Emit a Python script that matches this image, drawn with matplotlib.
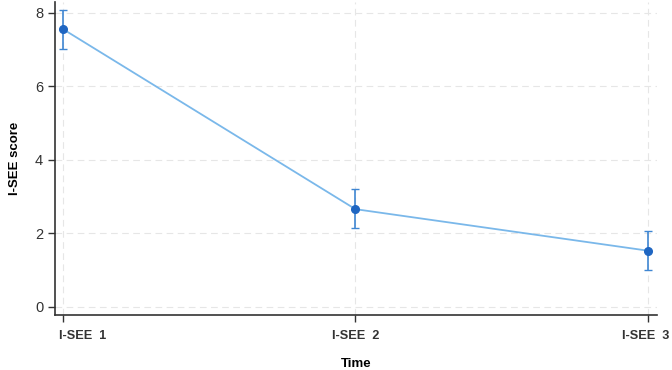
import matplotlib
matplotlib.use("Agg")
import matplotlib.pyplot as plt
from matplotlib.transforms import ScaledTranslation

categories = ["I-SEE  1", "I-SEE  2", "I-SEE  3"]
means = [7.55, 2.65, 1.52]
lower = [7.01, 2.15, 0.99]
upper = [8.06, 3.19, 2.06]

plt.rcParams['font.family'] = ['Liberation Sans', 'DejaVu Sans']

fig = plt.figure(figsize=(6.72, 3.70), dpi=100)
ax = fig.add_axes([0.0818, 0.1486, 0.8959, 0.8464])

x = list(range(1, len(categories) + 1))
yerr = [[m - l for m, l in zip(means, lower)], [u - m for m, u in zip(means, upper)]]

ax.plot(x, means, color='#7ab8ea', lw=1.3, zorder=2)
ax.errorbar(x, means, yerr=yerr, fmt='none', ecolor='#3f86d2', elinewidth=1.2,
            capsize=3, capthick=1.0, zorder=3)
ax.plot(x, means, 'o', color='#1f66c2', ms=5.5, zorder=4)

ax.set_xlim(0.973, 3.031)
ax.set_ylim(-0.23, 8.29)
ax.set_xticks(x)
ax.set_xticklabels(categories, fontweight='bold', fontsize=9.2)
ax.set_yticks([0, 2, 4, 6, 8])
ax.tick_params(axis='y', labelsize=10.5, colors='#333333', length=5, width=1)
ax.tick_params(axis='x', length=5, width=1, colors='#333333', pad=6)

labels = ax.get_xticklabels()
labels[0].set_horizontalalignment('left')
labels[0].set_transform(labels[0].get_transform() + ScaledTranslation(-0.04, 0, fig.dpi_scale_trans))
labels[-1].set_transform(labels[-1].get_transform() + ScaledTranslation(-0.02, 0, fig.dpi_scale_trans))

ax.grid(True, color='#e6e6e6', linestyle=(0, (6, 4)), lw=0.8)
for s in ['top', 'right']:
    ax.spines[s].set_visible(False)
for s in ['left', 'bottom']:
    ax.spines[s].set_color('#333333')
    ax.spines[s].set_linewidth(1.2)

ax.set_xlabel("Time", fontweight='bold', fontsize=9.5, labelpad=11)
ax.set_ylabel("I-SEE score", fontweight='bold', fontsize=9.5, labelpad=10)

fig.savefig("out.png", dpi=100)
